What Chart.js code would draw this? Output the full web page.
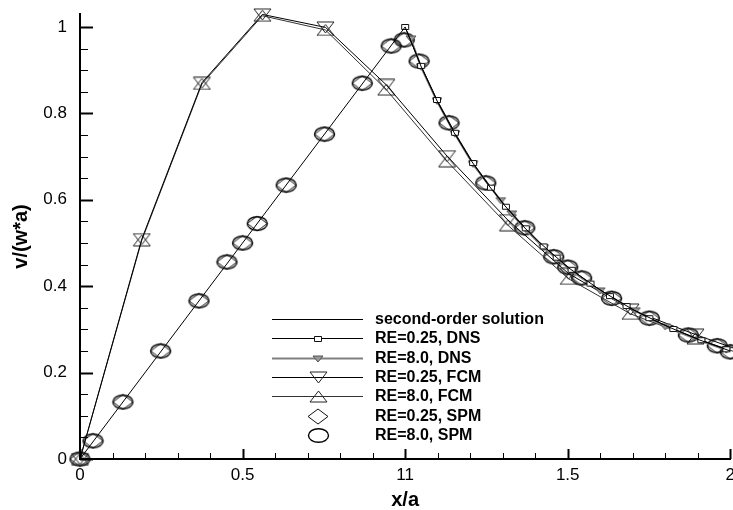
<!DOCTYPE html>
<html lang="en">
<head>
<meta charset="UTF-8" />
<title>v/(w*a) vs x/a</title>
<script src="https://cdn.jsdelivr.net/npm/chart.js@4.4.4/dist/chart.umd.min.js"></script>
<style>
  html, body { margin: 0; padding: 0; background: #fff; overflow: hidden; }
  .wrap { width: 733px; height: 510px; overflow: hidden; }
</style>
</head>
<body>
<div class="wrap"><canvas id="chart" width="741" height="510"></canvas></div>
<script>
// values
const secondX = [0, 1, 1.05, 1.1, 1.15, 1.2, 1.25, 1.3, 1.35, 1.4, 1.5, 1.6, 1.7, 1.8, 1.9, 2.0]
const secondY = [0, 1, 0.907, 0.826, 0.756, 0.694, 0.64, 0.592, 0.549, 0.51, 0.444, 0.391, 0.346, 0.309, 0.277, 0.25]

const dns025X = [1.0, 1.049, 1.098, 1.153, 1.209, 1.264, 1.31, 1.371, 1.426, 1.466, 1.512, 1.57, 1.63, 1.681, 1.751, 1.825, 1.911, 1.988]
const dns025Y = [1.0, 0.91, 0.831, 0.755, 0.685, 0.628, 0.584, 0.534, 0.492, 0.466, 0.438, 0.406, 0.377, 0.354, 0.326, 0.301, 0.275, 0.254]
const dns8X = [1.018, 1.049, 1.098, 1.153, 1.209, 1.294, 1.328, 1.371, 1.426, 1.512, 1.6, 1.708, 1.8, 1.911, 1.988]
const dns8Y = [0.972, 0.907, 0.828, 0.752, 0.682, 0.598, 0.567, 0.531, 0.489, 0.435, 0.389, 0.343, 0.306, 0.273, 0.252]

const fcmX = [0, 0.19, 0.375, 0.561, 0.755, 0.942, 1.129, 1.316, 1.503, 1.693, 1.893, 2.08]
const fcm025Y = [0, 0.509, 0.871, 1.029, 0.999, 0.866, 0.701, 0.553, 0.429, 0.346, 0.288, 0.238]
const fcm8Y = [0, 0.506, 0.868, 1.026, 0.993, 0.855, 0.689, 0.541, 0.417, 0.336, 0.279, 0.231]

const spmX = [0, 0.04, 0.132, 0.248, 0.366, 0.452, 0.5, 0.545, 0.634, 0.752, 0.868, 0.957, 0.997, 1.043, 1.135, 1.248, 1.368, 1.457, 1.5, 1.543, 1.635, 1.751, 1.871, 1.96, 2.0]
const spm025Y = [0, 0.042, 0.132, 0.25, 0.366, 0.456, 0.5, 0.545, 0.634, 0.752, 0.87, 0.956, 0.97, 0.921, 0.778, 0.639, 0.535, 0.468, 0.444, 0.419, 0.372, 0.326, 0.287, 0.262, 0.248]
const spm8Y = [0, 0.042, 0.132, 0.25, 0.366, 0.456, 0.5, 0.545, 0.634, 0.752, 0.87, 0.956, 0.97, 0.921, 0.778, 0.639, 0.535, 0.468, 0.444, 0.419, 0.372, 0.326, 0.287, 0.262, 0.248]

const seriesLabels = ['second-order solution', 'RE=0.25, DNS', 'RE=8.0, DNS', 'RE=0.25, FCM', 'RE=8.0, FCM', 'RE=0.25, SPM', 'RE=8.0, SPM']
const xTickLabels = ['0', '0.5', '11', '1.5', '2']
const yTickLabels = ['0', '0.2', '0.4', '0.6', '0.8', '1']

const FONT = '"Liberation Sans", Arial, sans-serif'
const pts = (xs, ys) => xs.map((x, i) => ({x, y: ys[i]}))

// marker sprites (tecplot-like symbols)
function sprite(w, h, draw) {
  const c = document.createElement('canvas')
  c.width = w
  c.height = h
  const g = c.getContext('2d')
  draw(g, w, h)
  return c
}
const poly = (g, p, fill, stroke, lw) => {
  g.beginPath()
  g.moveTo(p[0][0], p[0][1])
  p.slice(1).forEach(([a, b]) => g.lineTo(a, b))
  g.closePath()
  if (fill) { g.fillStyle = fill; g.fill() }
  g.strokeStyle = stroke
  g.lineWidth = lw
  g.stroke()
}
const mSquare = sprite(10, 8, (g) => poly(g, [[1.5, 1.5], [8.5, 1.5], [8.5, 6.5], [1.5, 6.5]], '#fff', '#111', 1))
const mSmallDown = sprite(12, 8, (g) => poly(g, [[1, 1], [11, 1], [6, 7]], '#999', '#555', 1))
const mDown = sprite(19, 13, (g) => poly(g, [[1, 1], [18, 1], [9.5, 12]], null, '#222', 1))
const mUp = sprite(19, 13, (g) => poly(g, [[9.5, 1], [18, 12], [1, 12]], null, '#222', 1))
const mDiamond = sprite(22, 17, (g) => poly(g, [[11, 1], [21, 8.5], [11, 16], [1, 8.5]], null, '#111', 1))
const mEllipse = sprite(23, 17, (g) => {
  g.beginPath()
  g.ellipse(11.5, 8.5, 10, 6.8, 0, 0, Math.PI * 2)
  g.strokeStyle = '#000'
  g.lineWidth = 1.4
  g.stroke()
})

const axisTicks = {
  id: 'axisTicks',
  afterDraw(chart) {
    const {ctx, chartArea: a, scales: {x, y}} = chart
    ctx.save()
    ctx.strokeStyle = '#000'
    for (let i = 0; i <= 20; i++) {
      const major = i % 5 === 0
      const px = Math.round(x.getPixelForValue(i / 10)) + 0.5
      ctx.lineWidth = major ? 2 : 1
      ctx.beginPath()
      ctx.moveTo(px, a.bottom)
      ctx.lineTo(px, a.bottom - (major ? 10 : 6))
      ctx.stroke()
    }
    for (let i = 0; i <= 20; i++) {
      const major = i % 4 === 0
      const py = Math.round(y.getPixelForValue(i * 0.05)) + 0.5
      ctx.lineWidth = major ? 2 : 1
      ctx.beginPath()
      ctx.moveTo(a.left, py)
      ctx.lineTo(a.left + (major ? 13 : 8), py)
      ctx.stroke()
    }
    ctx.restore()
  },
}

const legendBox = {
  id: 'legendBox',
  afterDraw(chart) {
    const {ctx} = chart
    ctx.save()
    ctx.font = 'bold 16px ' + FONT
    ctx.textBaseline = 'middle'
    chart.data.datasets.forEach((ds, i) => {
      const yy = Math.round(319 + i * 19.3) + 0.5
      if (ds.showLine !== false) {
        ctx.strokeStyle = ds.borderColor
        ctx.lineWidth = ds.borderWidth
        ctx.beginPath()
        ctx.moveTo(272, yy)
        ctx.lineTo(363, yy)
        ctx.stroke()
      }
      if (ds.pointStyle instanceof HTMLCanvasElement) {
        const s = ds.pointStyle
        ctx.drawImage(s, Math.round(318 - s.width / 2), Math.round(yy - s.height / 2))
      }
      ctx.fillStyle = '#000'
      ctx.fillText(ds.label, 375, yy)
    })
    ctx.restore()
  },
}

Chart.defaults.color = '#000'
Chart.defaults.font.family = FONT

new Chart(document.getElementById('chart'), {
  type: 'line',
  data: {
    datasets: [
      {label: seriesLabels[0], data: pts(secondX, secondY), borderColor: '#000', borderWidth: 1, pointRadius: 0},
      {label: seriesLabels[1], data: pts(dns025X, dns025Y), borderColor: '#000', borderWidth: 1, pointStyle: mSquare, pointRadius: 4},
      {label: seriesLabels[2], data: pts(dns8X, dns8Y), borderColor: '#808080', borderWidth: 2, pointStyle: mSmallDown, pointRadius: 4},
      {label: seriesLabels[3], data: pts(fcmX, fcm025Y), borderColor: '#000', borderWidth: 1, pointStyle: mDown, pointRadius: 8},
      {label: seriesLabels[4], data: pts(fcmX, fcm8Y), borderColor: '#333', borderWidth: 1, pointStyle: mUp, pointRadius: 8},
      {label: seriesLabels[5], data: pts(spmX, spm025Y), showLine: false, pointStyle: mDiamond, pointRadius: 8},
      {label: seriesLabels[6], data: pts(spmX, spm8Y), showLine: false, pointStyle: mEllipse, pointRadius: 8},
    ],
  },
  options: {
    responsive: false,
    animation: false,
    events: [],
    clip: false,
    layout: {padding: {top: 14, right: 1, bottom: 0, left: 0}},
    elements: {line: {tension: 0}, point: {borderWidth: 0}},
    plugins: {legend: {display: false}, tooltip: {enabled: false}},
    scales: {
      x: {
        type: 'linear',
        min: 0,
        max: 2,
        afterFit: (s) => { s.height = 51 },
        grid: {display: false, drawTicks: false},
        border: {color: '#000', width: 2},
        ticks: {stepSize: 0.5, padding: 6, font: {size: 17}, callback: (v, i) => xTickLabels[i]},
        title: {display: true, text: 'x/a', font: {size: 20, weight: 'bold', lineHeight: 1}, padding: {top: 0, bottom: 0}},
      },
      y: {
        min: 0,
        max: 1.03,
        afterFit: (s) => { s.width = 80; s.paddingTop = 0; s.paddingBottom = 0 },
        grid: {display: false, drawTicks: false},
        border: {color: '#000', width: 2},
        ticks: {stepSize: 0.2, includeBounds: false, padding: 13, font: {size: 17}, callback: (v, i) => yTickLabels[i]},
        title: {display: true, text: 'v/(w*a)', font: {size: 20, weight: 'bold', lineHeight: 1}, padding: {top: 11, bottom: 0}},
      },
    },
  },
  plugins: [axisTicks, legendBox],
})
</script>
</body>
</html>
